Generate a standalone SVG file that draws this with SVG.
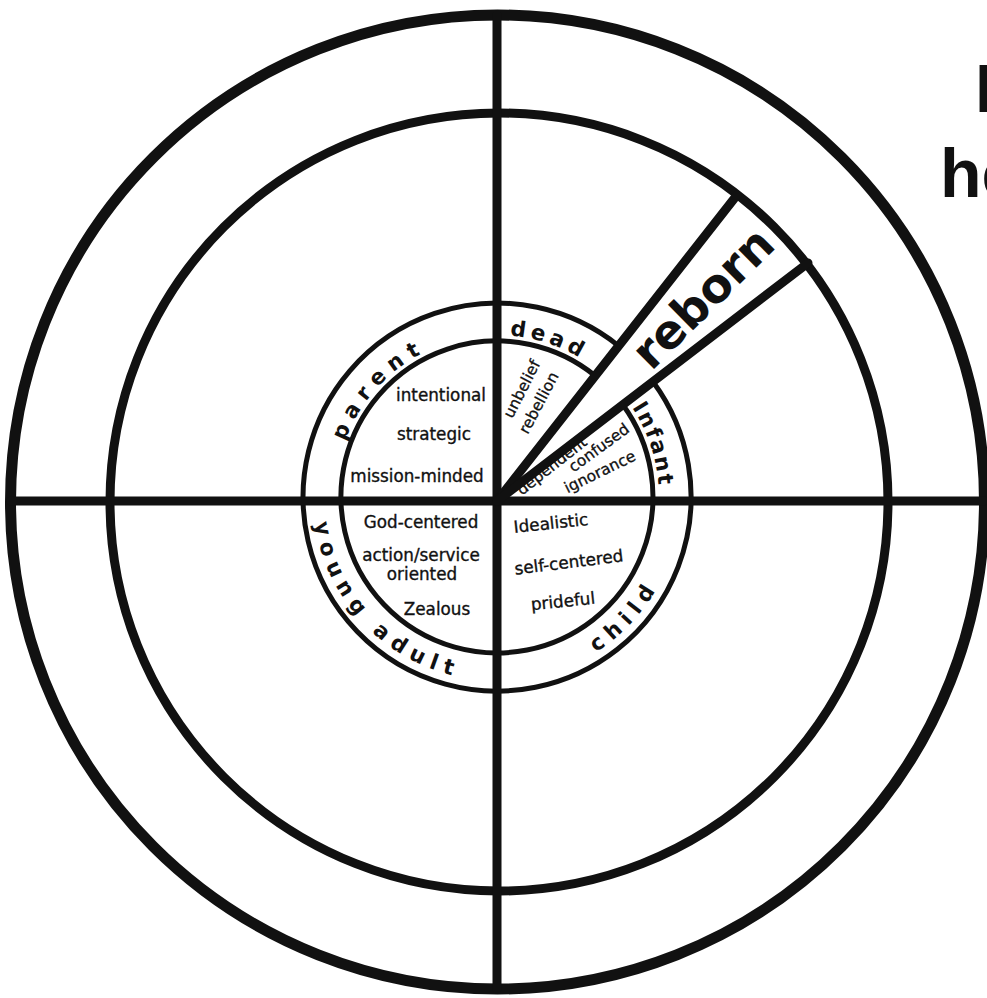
<svg xmlns="http://www.w3.org/2000/svg" width="987" height="998" viewBox="0 0 987 998">
<style>
.st{fill:none;stroke:#111;stroke-linecap:round}
.big{stroke-width:11}
.mid{stroke-width:9}
.ax{stroke-width:9}
.rg{stroke-width:5}
.lbl{font-family:"DejaVu Sans",sans-serif;font-weight:bold;font-size:21.5px;fill:#111}
.t{font-family:"DejaVu Sans",sans-serif;font-size:16.8px;fill:#111;stroke:#111;stroke-width:0.35;text-anchor:middle}
.s{font-family:"DejaVu Sans",sans-serif;font-size:15.5px;fill:#111;stroke:#111;stroke-width:0.3;text-anchor:middle}
.ttl{font-family:"Liberation Sans",Arial,sans-serif;font-weight:bold;font-size:68px;fill:#111}
</style>
<defs>
<path id="p-parent" d="M342.7,546.2 A162,162 0 0 1 531.5,338.7"/>
<path id="p-dead" d="M389.2,376 A162,162 0 0 1 655.6,464.1"/>
<path id="p-infant" d="M529,338.2 A162,162 0 0 1 618.5,604.1"/>
<path id="p-child" d="M455.6,676.3 A184,184 0 0 0 673,443.2"/>
<path id="p-young" d="M320.9,443.5 A184,184 0 0 0 538.7,676.2"/>
</defs>
<rect width="987" height="998" fill="#fff"/>

<g id="title">
<text class="ttl" x="975" y="112">I</text>
<text class="ttl" x="940" y="197">he</text>
</g>

<g id="rings">
<circle class="st big" cx="497.5" cy="502" r="487"/>
<circle class="st mid" cx="499" cy="502" r="389"/>
<path class="st rg" d="M618.6,345.9 A194,194 0 1 0 653,381.7"/>
<path class="st rg" d="M595.2,375.8 A156,156 0 1 0 622.8,404.8"/>
</g>

<g id="node-parent">
<text class="lbl" letter-spacing="7.5"><textPath href="#p-parent" startOffset="50%" text-anchor="middle">parent</textPath></text>
<text class="t" x="441" y="401">intentional</text>
<text class="t" x="434" y="440">strategic</text>
<text class="t" x="417" y="482">mission-minded</text>
</g>

<g id="node-dead">
<text class="lbl" letter-spacing="4.5"><textPath href="#p-dead" startOffset="50%" text-anchor="middle">dead</textPath></text>
<g transform="translate(522,389) rotate(-63)"><text class="s" x="0" y="5">unbelief</text></g>
<g transform="translate(539,403) rotate(-62)"><text class="s" x="0" y="5">rebellion</text></g>
</g>

<g id="node-infant">
<text class="lbl" letter-spacing="2"><textPath href="#p-infant" startOffset="50%" text-anchor="middle">Infant</textPath></text>
<g transform="translate(552,466) rotate(-38)"><text class="s" x="0" y="5">dependent</text></g>
<g transform="translate(599,448) rotate(-36)"><text class="s" x="0" y="5">confused</text></g>
<g transform="translate(600,472) rotate(-26)"><text class="s" x="0" y="5">ignorance</text></g>
</g>

<g id="node-child">
<text class="lbl" letter-spacing="7"><textPath href="#p-child" startOffset="50%" text-anchor="middle">child</textPath></text>
<g transform="translate(551,524) rotate(-6)"><text class="t" x="0" y="5">Idealistic</text></g>
<g transform="translate(569,563) rotate(-7)"><text class="t" x="0" y="5">self-centered</text></g>
<g transform="translate(563,602) rotate(-6)"><text class="t" x="0" y="5">prideful</text></g>
</g>

<g id="node-young-adult">
<text class="lbl" letter-spacing="7.2"><textPath href="#p-young" startOffset="50%" text-anchor="middle">young adult</textPath></text>
<text class="t" x="421" y="528">God-centered</text>
<text class="t" x="421" y="561">action/service</text>
<text class="t" x="422" y="580">oriented</text>
<text class="t" x="437" y="615">Zealous</text>
</g>

<g id="node-reborn">
<g transform="translate(703,298) rotate(-44.7)"><text x="0" y="16" text-anchor="middle" font-family="DejaVu Sans, sans-serif" font-weight="bold" font-size="47" fill="#111">reborn</text></g>
</g>

<g id="connectors">
<line class="st ax" x1="497" y1="15" x2="497" y2="989"/>
<line class="st ax" x1="11" y1="501" x2="984" y2="501"/>
<line class="st mid" x1="497" y1="501" x2="737" y2="195"/>
<line class="st mid" x1="497" y1="501" x2="808" y2="263"/>
</g>
</svg>
